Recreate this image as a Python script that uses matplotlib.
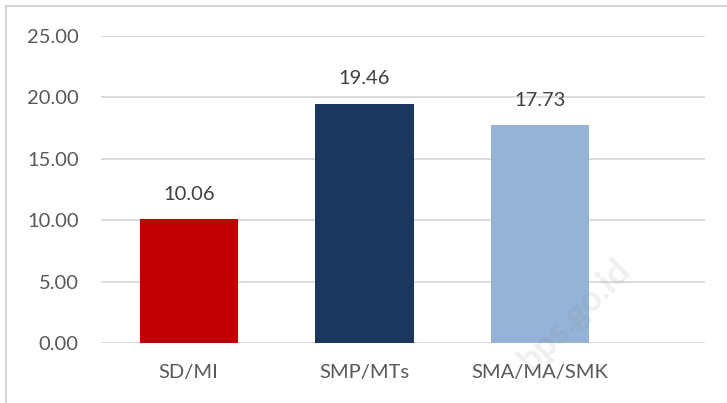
import matplotlib.pyplot as plt
from matplotlib.patches import Rectangle

# data
categories = ['SD/MI', 'SMP/MTs', 'SMA/MA/SMK']
values = [10.06, 19.46, 17.73]
colors = ['#C00000', '#1A375E', '#95B3D7']
yticks = [0, 5, 10, 15, 20, 25]

plt.rcParams['font.family'] = ['Lato', 'DejaVu Sans']

fig = plt.figure(figsize=(7.27, 4.03), dpi=100)
ax = fig.add_axes([101 / 727, 60 / 403, 604 / 727, 307 / 403])

x = range(len(categories))
bars = ax.bar(x, values, width=0.56, color=colors, zorder=3)

for b, v in zip(bars, values):
    ax.annotate(f'{v:.2f}', (b.get_x() + b.get_width() / 2, v),
                xytext=(0, 12), textcoords='offset points',
                ha='center', va='bottom', fontsize=14.5, color='#404040')

ax.set_ylim(0, 25)
ax.set_xlim(-0.5, 2.94)
ax.set_yticks(yticks)
ax.set_yticklabels([f'{t:.2f}' for t in yticks])
ax.set_xticks(list(x))
ax.set_xticklabels(categories)
ax.tick_params(axis='both', length=0, labelsize=14.5, labelcolor='#595959')
ax.tick_params(axis='y', pad=16)
ax.tick_params(axis='x', pad=15)
ax.yaxis.grid(True, color='#D9D9D9', linewidth=1.3, zorder=0)
for s in ax.spines.values():
    s.set_visible(False)

# chart border (cut off at right/bottom like the screenshot)
fig.patches.append(Rectangle((6 / 727, -0.1), 1.1, 1 - 6 / 403 + 0.1,
                             transform=fig.transFigure, fill=False,
                             edgecolor='#D0D0D0', linewidth=1.3))

# watermark
fig.text(575 / 727, 1 - 315 / 403, 'bps.go.id', rotation=45, fontsize=26,
         fontweight='bold', color='#808080', alpha=0.12,
         ha='center', va='center', zorder=5)

fig.savefig('out.png', dpi=100)
